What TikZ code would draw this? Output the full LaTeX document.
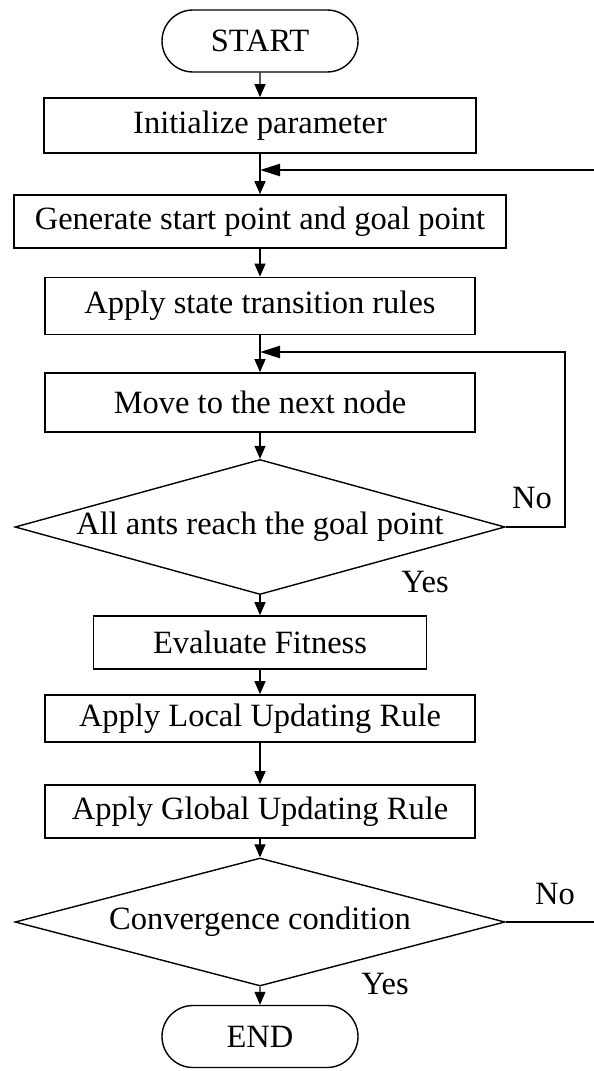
\documentclass[tikz,border=0pt]{standalone}
\usepackage{fontspec}
\setmainfont{Liberation Serif}
\usetikzlibrary{shapes.geometric,shapes.misc,arrows.meta}

\begin{document}
\begin{tikzpicture}[x=1pt,y=-1pt,
    box/.style={draw,line width=1.7pt,rectangle,inner sep=0pt,font=\fontsize{32.5}{38}\selectfont},
    term/.style={draw,line width=1.4pt,rounded rectangle,inner sep=0pt,minimum width=196pt,minimum height=62pt,font=\fontsize{32.5}{38}\selectfont},
    decide/.style={draw,line width=1.4pt,diamond,inner sep=0pt,font=\fontsize{32.5}{38}\selectfont},
    flow/.style={line width=1.3pt,-{Triangle[width=11pt,length=13pt]}},
    back/.style={line width=2.4pt,-{Triangle[width=12pt,length=20pt]}},
    lbl/.style={font=\fontsize{32.5}{38}\selectfont}]

% Fix the page size
\useasboundingbox (0,0) rectangle (594,1071);

% Draw the start and the boxes
\node[term] (start) at (260,41) {START};
\node[box,minimum width=432pt,minimum height=55pt] (init) at (260,125.5) {Initialize parameter};
\node[box,minimum width=492pt,minimum height=53pt] (gen) at (260,221.5) {Generate start point and goal point};
\node[box,minimum width=430pt,minimum height=57pt] (rules) at (260,306) {Apply state transition rules};
\node[box,minimum width=430pt,minimum height=59pt] (move) at (260,402.5) {Move to the next node};

% Draw the first decision
\node[decide,aspect=3.63,minimum width=490pt,minimum height=135pt] (reach) at (260,527) {All ants reach the goal point};

\node[box,minimum width=333pt,minimum height=53pt] (eval) at (260,642.5) {Evaluate Fitness};
\node[box,minimum width=430pt,minimum height=47pt] (local) at (260,718.5) {Apply Local Updating Rule};
\node[box,minimum width=430pt,minimum height=53pt] (global) at (260,811.5) {Apply Global Updating Rule};

% Draw the second decision
\node[decide,aspect=3.83,minimum width=490pt,minimum height=128pt] (conv) at (260,922) {Convergence condition};
\node[term] (end) at (260,1036.5) {END};

% Draw the main flow
\draw[flow] (start) -- (init);
\draw[flow] (init) -- (gen);
\draw[flow] (gen) -- (rules);
\draw[flow] (rules) -- (move);
\draw[flow] (move) -- (reach.north);
\draw[flow] (reach.south) -- (eval);
\draw[flow] (eval) -- (local);
\draw[flow] (local) -- (global);
\draw[flow] (global) -- (conv.north);
\draw[flow] (conv.south) -- (end);

% Draw the loops
\coordinate (loopin) at (260,352);
\coordinate (backin) at (260,170);
\coordinate (backout) at (594,170);
\coordinate (convout) at (594,922);
\draw[back] (reach.east) -- (565,527) -- (565,352) -- (loopin);
\draw[back] (backout) -- (backin);
\draw[line width=2.4pt] (conv.east) -- (convout);

% Draw the labels
\node[lbl] at (532,498) {No};
\node[lbl] at (425,582) {Yes};
\node[lbl] at (555,894) {No};
\node[lbl] at (385,984) {Yes};

\end{tikzpicture}
\end{document}
